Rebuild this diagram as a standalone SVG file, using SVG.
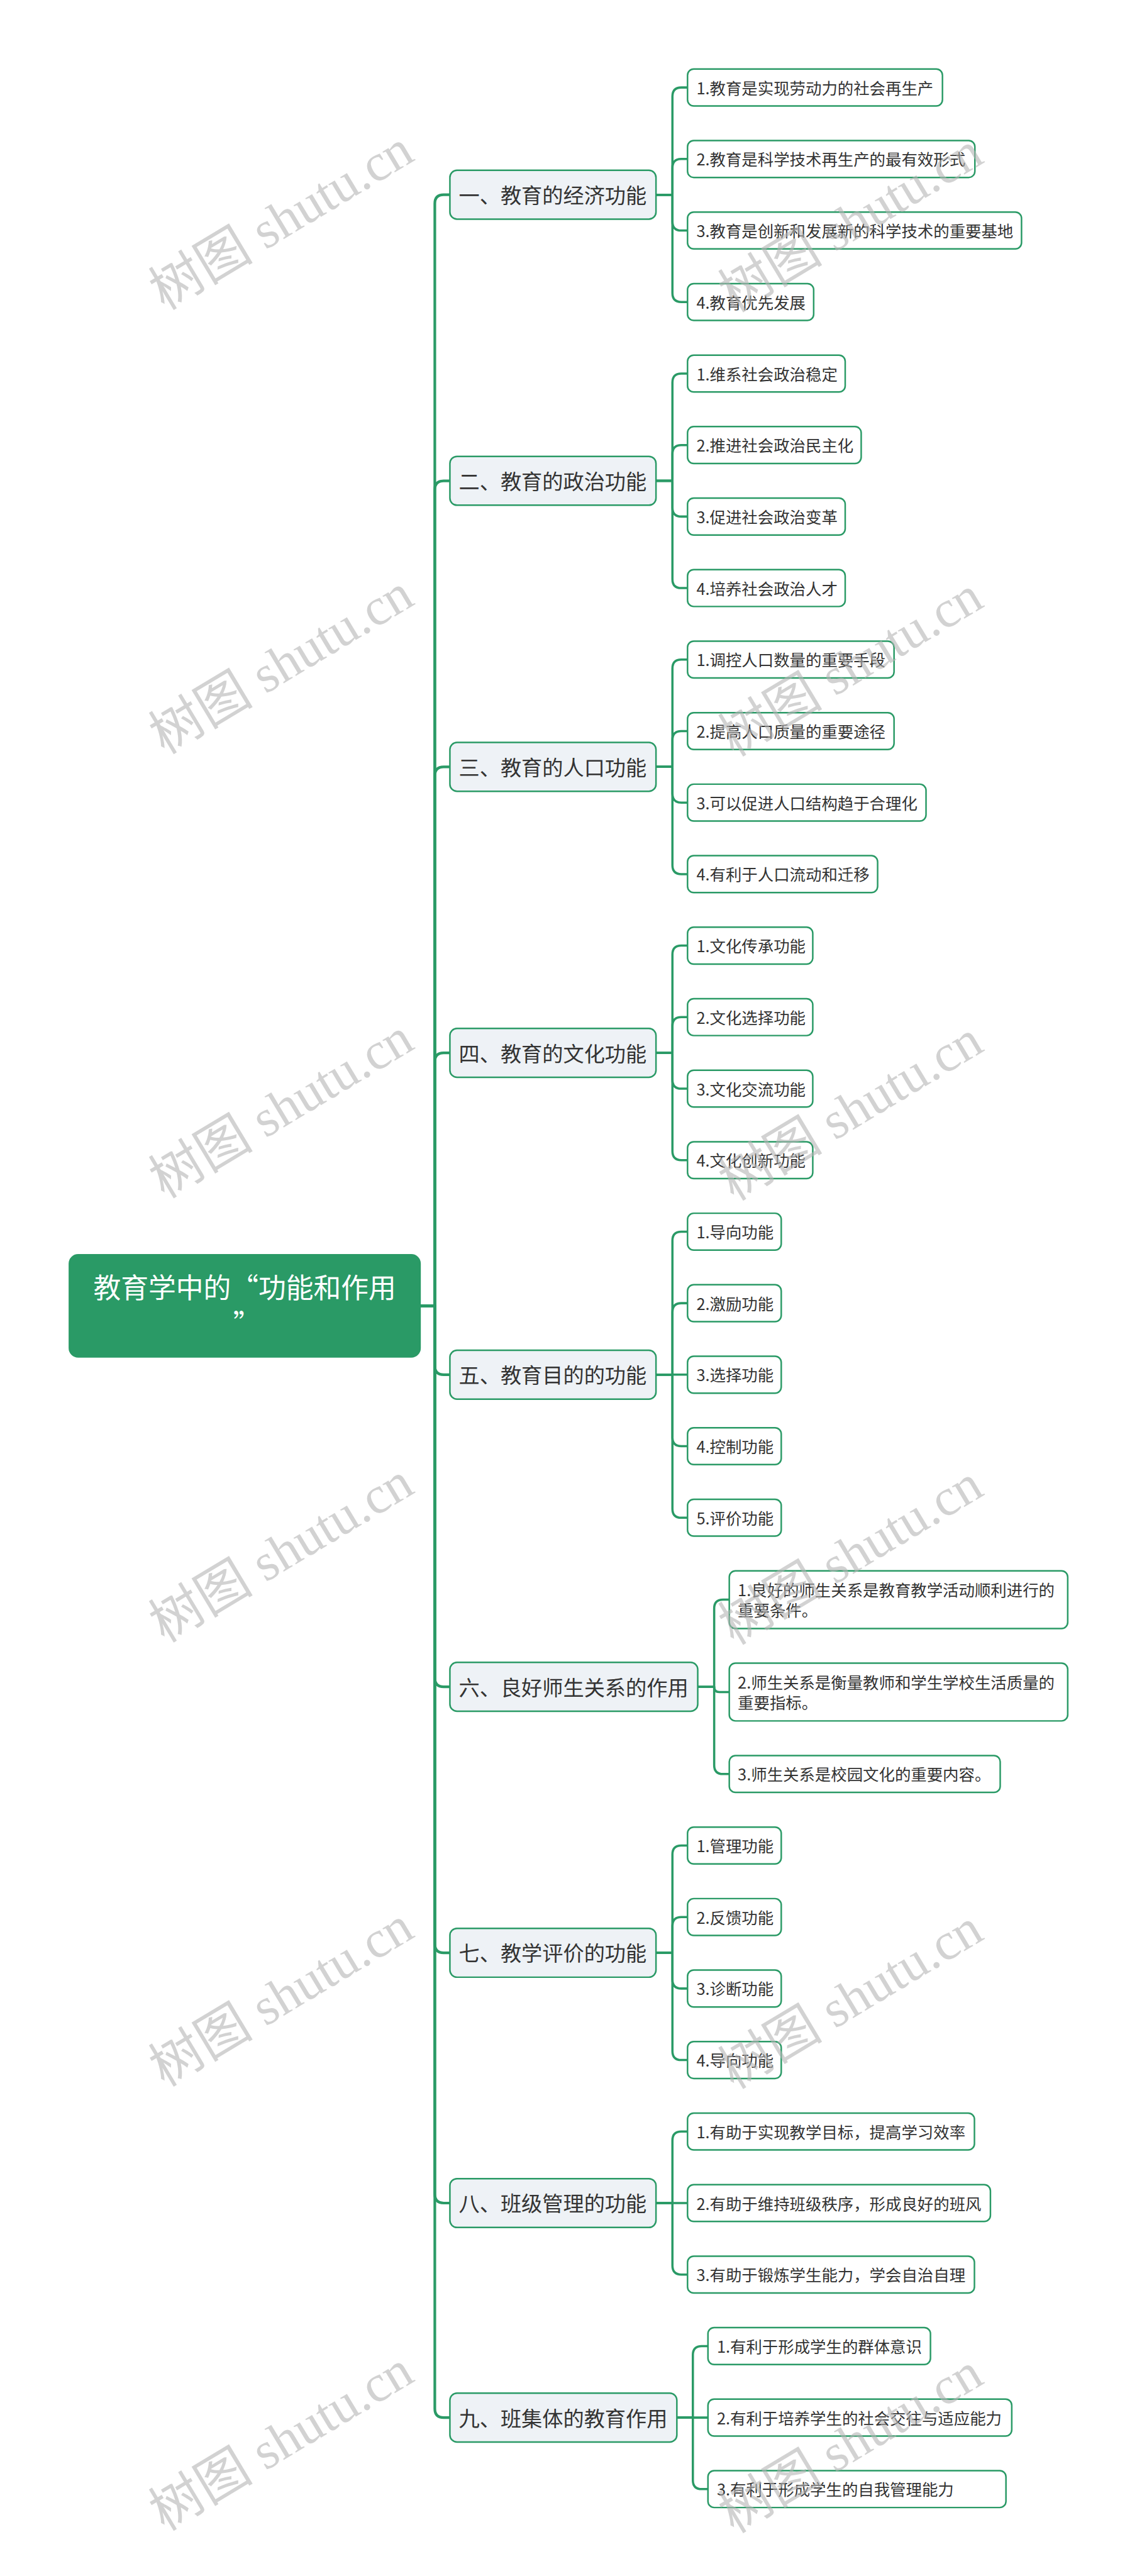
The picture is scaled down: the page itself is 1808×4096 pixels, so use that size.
<svg xmlns="http://www.w3.org/2000/svg" width="1808" height="4096" viewBox="0 0 1808 4096">
<style>
.bg{fill:#ffffff}
.conn{fill:none;stroke:#2a9a66;stroke-width:5;stroke-linecap:round;stroke-linejoin:round}
.rconn{fill:none;stroke:#2a9a66;stroke-width:6;stroke-linecap:round;stroke-linejoin:round}
.root rect{fill:#2a9a66;stroke:#2a9a66;stroke-width:3}
.root text{fill:#ffffff;font-family:"Noto Sans CJK SC","Microsoft YaHei",sans-serif;font-size:62px;text-anchor:middle}
.br rect{fill:#eef2f6;stroke:#2a9a66;stroke-width:3.5}
.br text{fill:#333333;font-family:"Noto Sans CJK SC","Microsoft YaHei",sans-serif;font-size:47px}
.lf rect{fill:#ffffff;stroke:#2a9a66;stroke-width:3.5}
.lf text{fill:#333333;font-family:"Noto Sans CJK SC","Microsoft YaHei",sans-serif;font-size:36px}
.wm text{fill:#b4b4b4;fill-opacity:0.6;font-family:"Liberation Serif","Noto Sans CJK SC",serif;font-size:118px}
</style>
<rect class="bg" x="0" y="0" width="1808" height="4096"/>
<g transform="scale(0.70625)">
<g id="connectors">
<path class="rconn" d="M946 2940.5 H979 V458.5 Q979 438.5 999 438.5 H1013"/>
<path class="rconn" d="M946 2940.5 H979 V1102.5 Q979 1082.5 999 1082.5 H1013"/>
<path class="rconn" d="M946 2940.5 H979 V1746.5 Q979 1726.5 999 1726.5 H1013"/>
<path class="rconn" d="M946 2940.5 H979 V2390.5 Q979 2370.5 999 2370.5 H1013"/>
<path class="rconn" d="M946 2940.5 H979 V3075 Q979 3095 999 3095 H1013"/>
<path class="rconn" d="M946 2940.5 H979 V3777.75 Q979 3797.75 999 3797.75 H1013"/>
<path class="rconn" d="M946 2940.5 H979 V4376.5 Q979 4396.5 999 4396.5 H1013"/>
<path class="rconn" d="M946 2940.5 H979 V4940 Q979 4960 999 4960 H1013"/>
<path class="rconn" d="M946 2940.5 H979 V5423 Q979 5443 999 5443 H1013"/>
<!-- B1 -->
<path class="conn" d="M1477 438.5 H1514 V217 Q1514 197 1534 197 H1548"/>
<path class="conn" d="M1477 438.5 H1514 V378 Q1514 358 1534 358 H1548"/>
<path class="conn" d="M1477 438.5 H1514 V499 Q1514 519 1534 519 H1548"/>
<path class="conn" d="M1477 438.5 H1514 V660 Q1514 680 1534 680 H1548"/>
<!-- B2 -->
<path class="conn" d="M1477 1082.5 H1514 V861 Q1514 841 1534 841 H1548"/>
<path class="conn" d="M1477 1082.5 H1514 V1022 Q1514 1002 1534 1002 H1548"/>
<path class="conn" d="M1477 1082.5 H1514 V1143 Q1514 1163 1534 1163 H1548"/>
<path class="conn" d="M1477 1082.5 H1514 V1304 Q1514 1324 1534 1324 H1548"/>
<!-- B3 -->
<path class="conn" d="M1477 1726.5 H1514 V1505 Q1514 1485 1534 1485 H1548"/>
<path class="conn" d="M1477 1726.5 H1514 V1666 Q1514 1646 1534 1646 H1548"/>
<path class="conn" d="M1477 1726.5 H1514 V1787 Q1514 1807 1534 1807 H1548"/>
<path class="conn" d="M1477 1726.5 H1514 V1948 Q1514 1968 1534 1968 H1548"/>
<!-- B4 -->
<path class="conn" d="M1477 2370.5 H1514 V2149 Q1514 2129 1534 2129 H1548"/>
<path class="conn" d="M1477 2370.5 H1514 V2310 Q1514 2290 1534 2290 H1548"/>
<path class="conn" d="M1477 2370.5 H1514 V2431 Q1514 2451 1534 2451 H1548"/>
<path class="conn" d="M1477 2370.5 H1514 V2592 Q1514 2612 1534 2612 H1548"/>
<!-- B5 -->
<path class="conn" d="M1477 3095 H1514 V2793 Q1514 2773 1534 2773 H1548"/>
<path class="conn" d="M1477 3095 H1514 V2954 Q1514 2934 1534 2934 H1548"/>
<path class="conn" d="M1477 3095 H1548"/>
<path class="conn" d="M1477 3095 H1514 V3236 Q1514 3256 1534 3256 H1548"/>
<path class="conn" d="M1477 3095 H1514 V3397 Q1514 3417 1534 3417 H1548"/>
<!-- B6 -->
<path class="conn" d="M1571 3797.75 H1608 V3621.5 Q1608 3601.5 1628 3601.5 H1642"/>
<path class="conn" d="M1571 3797.75 H1608 Q1608 3809.5 1619.75 3809.5 H1642"/>
<path class="conn" d="M1571 3797.75 H1608 V3974 Q1608 3994 1628 3994 H1642"/>
<!-- B7 -->
<path class="conn" d="M1477 4396.5 H1514 V4175 Q1514 4155 1534 4155 H1548"/>
<path class="conn" d="M1477 4396.5 H1514 V4336 Q1514 4316 1534 4316 H1548"/>
<path class="conn" d="M1477 4396.5 H1514 V4457 Q1514 4477 1534 4477 H1548"/>
<path class="conn" d="M1477 4396.5 H1514 V4618 Q1514 4638 1534 4638 H1548"/>
<!-- B8 -->
<path class="conn" d="M1477 4960 H1514 V4819 Q1514 4799 1534 4799 H1548"/>
<path class="conn" d="M1477 4960 H1548"/>
<path class="conn" d="M1477 4960 H1514 V5101 Q1514 5121 1534 5121 H1548"/>
<!-- B9 -->
<path class="conn" d="M1524 5443 H1560 V5302 Q1560 5282 1580 5282 H1594"/>
<path class="conn" d="M1524 5443 H1594"/>
<path class="conn" d="M1524 5443 H1560 V5584 Q1560 5604 1580 5604 H1594"/>
</g>

<g id="root" class="root">
<rect x="156" y="2825" width="790" height="230" rx="20"/>
<text x="551" y="2923">教育学中的“功能和作用</text>
<text x="556" y="3005">”</text>
</g>

<g id="b1" class="br"><rect x="1013" y="383.5" width="464" height="110" rx="16"/><text x="1033" y="457.5">一、教育的经济功能</text></g>
<g id="b1-1" class="lf"><rect x="1548" y="155.5" width="574" height="83" rx="14"/><text x="1568" y="212">1.教育是实现劳动力的社会再生产</text></g>
<g id="b1-2" class="lf"><rect x="1548" y="316.5" width="647" height="83" rx="14"/><text x="1568" y="373">2.教育是科学技术再生产的最有效形式</text></g>
<g id="b1-3" class="lf"><rect x="1548" y="477.5" width="752" height="83" rx="14"/><text x="1568" y="534">3.教育是创新和发展新的科学技术的重要基地</text></g>
<g id="b1-4" class="lf"><rect x="1548" y="638.5" width="284" height="83" rx="14"/><text x="1568" y="695">4.教育优先发展</text></g>

<g id="b2" class="br"><rect x="1013" y="1027.5" width="464" height="110" rx="16"/><text x="1033" y="1101.5">二、教育的政治功能</text></g>
<g id="b2-1" class="lf"><rect x="1548" y="799.5" width="355" height="83" rx="14"/><text x="1568" y="856">1.维系社会政治稳定</text></g>
<g id="b2-2" class="lf"><rect x="1548" y="960.5" width="391" height="83" rx="14"/><text x="1568" y="1017">2.推进社会政治民主化</text></g>
<g id="b2-3" class="lf"><rect x="1548" y="1121.5" width="355" height="83" rx="14"/><text x="1568" y="1178">3.促进社会政治变革</text></g>
<g id="b2-4" class="lf"><rect x="1548" y="1282.5" width="355" height="83" rx="14"/><text x="1568" y="1339">4.培养社会政治人才</text></g>

<g id="b3" class="br"><rect x="1013" y="1671.5" width="464" height="110" rx="16"/><text x="1033" y="1745.5">三、教育的人口功能</text></g>
<g id="b3-1" class="lf"><rect x="1548" y="1443.5" width="465" height="83" rx="14"/><text x="1568" y="1500">1.调控人口数量的重要手段</text></g>
<g id="b3-2" class="lf"><rect x="1548" y="1604.5" width="465" height="83" rx="14"/><text x="1568" y="1661">2.提高人口质量的重要途径</text></g>
<g id="b3-3" class="lf"><rect x="1548" y="1765.5" width="537" height="83" rx="14"/><text x="1568" y="1822">3.可以促进人口结构趋于合理化</text></g>
<g id="b3-4" class="lf"><rect x="1548" y="1926.5" width="428" height="83" rx="14"/><text x="1568" y="1983">4.有利于人口流动和迁移</text></g>

<g id="b4" class="br"><rect x="1013" y="2315.5" width="464" height="110" rx="16"/><text x="1033" y="2389.5">四、教育的文化功能</text></g>
<g id="b4-1" class="lf"><rect x="1548" y="2087.5" width="282" height="83" rx="14"/><text x="1568" y="2144">1.文化传承功能</text></g>
<g id="b4-2" class="lf"><rect x="1548" y="2248.5" width="282" height="83" rx="14"/><text x="1568" y="2305">2.文化选择功能</text></g>
<g id="b4-3" class="lf"><rect x="1548" y="2409.5" width="282" height="83" rx="14"/><text x="1568" y="2466">3.文化交流功能</text></g>
<g id="b4-4" class="lf"><rect x="1548" y="2570.5" width="282" height="83" rx="14"/><text x="1568" y="2627">4.文化创新功能</text></g>

<g id="b5" class="br"><rect x="1013" y="3040" width="464" height="110" rx="16"/><text x="1033" y="3114">五、教育目的的功能</text></g>
<g id="b5-1" class="lf"><rect x="1548" y="2731.5" width="211" height="83" rx="14"/><text x="1568" y="2788">1.导向功能</text></g>
<g id="b5-2" class="lf"><rect x="1548" y="2892.5" width="211" height="83" rx="14"/><text x="1568" y="2949">2.激励功能</text></g>
<g id="b5-3" class="lf"><rect x="1548" y="3053.5" width="211" height="83" rx="14"/><text x="1568" y="3110">3.选择功能</text></g>
<g id="b5-4" class="lf"><rect x="1548" y="3214.5" width="211" height="83" rx="14"/><text x="1568" y="3271">4.控制功能</text></g>
<g id="b5-5" class="lf"><rect x="1548" y="3375.5" width="211" height="83" rx="14"/><text x="1568" y="3432">5.评价功能</text></g>

<g id="b6" class="br"><rect x="1013" y="3742.75" width="558" height="110" rx="16"/><text x="1033" y="3816.75">六、良好师生关系的作用</text></g>
<g id="b6-1" class="lf"><rect x="1642" y="3536.5" width="762" height="130" rx="14"/><text x="1661" y="3593.5">1.良好的师生关系是教育教学活动顺利进行的</text><text x="1661" y="3638.5">重要条件。</text></g>
<g id="b6-2" class="lf"><rect x="1642" y="3744.5" width="762" height="130" rx="14"/><text x="1661" y="3801.5">2.师生关系是衡量教师和学生学校生活质量的</text><text x="1661" y="3846.5">重要指标。</text></g>
<g id="b6-3" class="lf"><rect x="1642" y="3952.5" width="610" height="83" rx="14"/><text x="1661" y="4009">3.师生关系是校园文化的重要内容。</text></g>

<g id="b7" class="br"><rect x="1013" y="4341.5" width="464" height="110" rx="16"/><text x="1033" y="4415.5">七、教学评价的功能</text></g>
<g id="b7-1" class="lf"><rect x="1548" y="4113.5" width="211" height="83" rx="14"/><text x="1568" y="4170">1.管理功能</text></g>
<g id="b7-2" class="lf"><rect x="1548" y="4274.5" width="211" height="83" rx="14"/><text x="1568" y="4331">2.反馈功能</text></g>
<g id="b7-3" class="lf"><rect x="1548" y="4435.5" width="211" height="83" rx="14"/><text x="1568" y="4492">3.诊断功能</text></g>
<g id="b7-4" class="lf"><rect x="1548" y="4596.5" width="211" height="83" rx="14"/><text x="1568" y="4653">4.导向功能</text></g>

<g id="b8" class="br"><rect x="1013" y="4905" width="464" height="110" rx="16"/><text x="1033" y="4979">八、班级管理的功能</text></g>
<g id="b8-1" class="lf"><rect x="1548" y="4757.5" width="646" height="83" rx="14"/><text x="1568" y="4814">1.有助于实现教学目标，提高学习效率</text></g>
<g id="b8-2" class="lf"><rect x="1548" y="4918.5" width="682" height="83" rx="14"/><text x="1568" y="4975">2.有助于维持班级秩序，形成良好的班风</text></g>
<g id="b8-3" class="lf"><rect x="1548" y="5079.5" width="646" height="83" rx="14"/><text x="1568" y="5136">3.有助于锻炼学生能力，学会自治自理</text></g>

<g id="b9" class="br"><rect x="1013" y="5388" width="511" height="110" rx="16"/><text x="1033" y="5462">九、班集体的教育作用</text></g>
<g id="b9-1" class="lf"><rect x="1594" y="5240.5" width="501" height="83" rx="14"/><text x="1614" y="5297">1.有利于形成学生的群体意识</text></g>
<g id="b9-2" class="lf"><rect x="1594" y="5401.5" width="684" height="83" rx="14"/><text x="1614" y="5458">2.有利于培养学生的社会交往与适应能力</text></g>
<g id="b9-3" class="lf"><rect x="1594" y="5562.5" width="671" height="83" rx="14"/><text x="1614" y="5619">3.有利于形成学生的自我管理能力</text></g>

<g id="watermark" class="wm">
<text transform="translate(370 700) rotate(-31)">树图 shutu.cn</text>
<text transform="translate(1652 705) rotate(-31)">树图 shutu.cn</text>
<text transform="translate(370 1700) rotate(-31)">树图 shutu.cn</text>
<text transform="translate(1652 1705) rotate(-31)">树图 shutu.cn</text>
<text transform="translate(370 2700) rotate(-31)">树图 shutu.cn</text>
<text transform="translate(1652 2705) rotate(-31)">树图 shutu.cn</text>
<text transform="translate(370 3700) rotate(-31)">树图 shutu.cn</text>
<text transform="translate(1652 3705) rotate(-31)">树图 shutu.cn</text>
<text transform="translate(370 4700) rotate(-31)">树图 shutu.cn</text>
<text transform="translate(1652 4705) rotate(-31)">树图 shutu.cn</text>
<text transform="translate(370 5700) rotate(-31)">树图 shutu.cn</text>
<text transform="translate(1652 5705) rotate(-31)">树图 shutu.cn</text>
</g>
</g>
</svg>
